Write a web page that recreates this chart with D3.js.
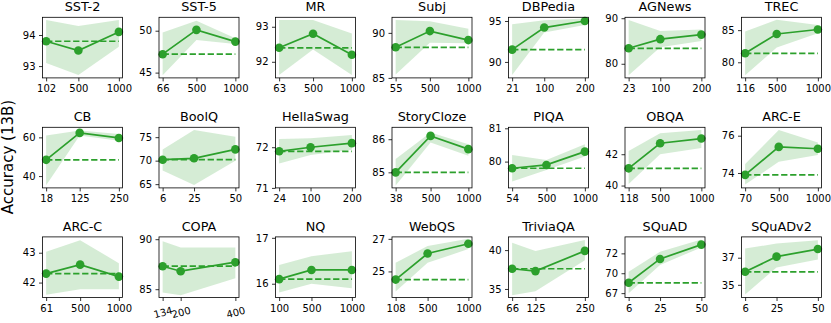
<!DOCTYPE html>
<html>
<head>
<meta charset="utf-8">
<script src="https://cdn.jsdelivr.net/npm/d3@7"></script>
<style>
  body { margin: 0; background: #fff; }
  text { font-family: "DejaVu Sans", sans-serif; fill: #000; }
</style>
</head>
<body>
<div id="chart"></div>
<script>
// data
var tasks = ["SST-2", "SST-5", "MR", "Subj", "DBPedia", "AGNews", "TREC",
             "CB", "BoolQ", "HellaSwag", "StoryCloze", "PIQA", "OBQA", "ARC-E",
             "ARC-C", "COPA", "NQ", "WebQS", "TriviaQA", "SQuAD", "SQuADv2"];

var shots = [
  [102, 500, 1000], [66, 500, 1000], [63, 500, 1000], [55, 500, 1000], [21, 100, 200], [23, 100, 200], [116, 500, 1000],
  [18, 125, 250], [6, 25, 50], [24, 100, 200], [38, 500, 1000], [54, 500, 1000], [118, 500, 1000], [70, 500, 1000],
  [61, 500, 1000], [134, 200, 400], [100, 500, 1000], [108, 500, 1000], [66, 125, 250], [6, 25, 50], [6, 25, 50]
];

var accuracy = [
  [93.8, 93.5, 94.1], [47.2, 50.1, 48.7], [92.4, 92.8, 92.2], [88.4, 90.2, 89.2], [91.5, 94.2, 95.0], [83.4, 85.4, 86.4], [81.4, 84.4, 85.1],
  [48.4, 62.3, 59.7], [70.2, 70.5, 72.4], [71.9, 72.0, 72.1], [85.0, 86.1, 85.7], [79.8, 79.9, 80.3], [41.1, 42.7, 43.0], [73.9, 75.4, 75.3],
  [42.3, 42.6, 42.2], [87.3, 86.8, 87.7], [16.1, 16.3, 16.3], [24.5, 26.1, 26.7], [37.6, 37.3, 39.9], [68.8, 71.8, 73.6], [36.2, 37.6, 38.3]
];

var bandLow = [
  [93.1, 92.71, 93.62], [44.7, 48.9, 48.4], [91.62, 92.35, 91.62], [85.38, 88.9, 88.86], [88.4, 93.6, 94.5], [77.5, 83.6, 85.0], [78.0, 82.3, 84.5],
  [35.3, 61.0, 58.3], [67.9, 64.8, 70.0], [71.6, 71.81, 71.94], [84.6, 85.9, 85.5], [79.4, 79.75, 80.15], [40.1, 42.0, 42.4], [73.38, 74.6, 74.96],
  [41.59, 41.78, 41.78], [84.67, 84.4, 86.1], [15.81, 16.0, 15.9], [23.77, 25.53, 26.37], [34.2, 34.7, 38.7], [67.5, 71.04, 73.25], [34.1, 36.6, 37.33]
];

var bandHigh = [
  [94.48, 94.29, 94.48], [49.8, 51.2, 49.1], [93.19, 93.19, 92.81], [91.43, 91.3, 90.45], [94.6, 95.1, 95.3], [89.6, 87.2, 87.5], [84.8, 86.6, 85.8],
  [61.0, 63.5, 61.8], [72.4, 76.5, 75.1], [72.2, 72.22, 72.3], [85.4, 86.2, 85.85], [80.2, 80.05, 80.52], [42.2, 43.34, 43.55], [74.48, 76.3, 75.64],
  [43.03, 43.42, 42.65], [89.8, 89.17, 89.17], [16.41, 16.6, 16.71], [25.53, 26.56, 27.0], [40.94, 39.87, 41.3], [70.2, 72.7, 74.25], [38.35, 38.8, 39.1]
];

var yLimits = [
  [92.62, 94.57], [44.37, 51.6], [91.54, 93.27], [85.0, 91.73], [88.05, 95.45], [76.9, 90.2], [77.57, 87.0],
  [33.9, 65.2], [64.2, 77.1], [71.0, 72.49], [84.53, 86.36], [79.21, 81.03], [39.85, 43.72], [73.2, 76.45],
  [41.5, 43.53], [84.17, 90.23], [15.7, 17.02], [23.4, 27.12], [33.9, 41.7], [66.95, 74.57], [33.83, 39.42]
];

var yTicks = [
  [93, 94], [45, 50], [92, 93], [85, 90], [90, 95], [80, 90], [80, 85],
  [40, 60], [65, 70, 75], [71, 72], [85, 86], [80, 81], [40, 42], [74, 76],
  [42, 43], [85, 90], [16, 17], [25, 27], [35, 40], [67.5, 70, 72.5], [35, 37.5]
];
// labels are the integer part of each tick
var yTickLabels = yTicks.map(function(t){ return t.map(function(v){ return String(Math.trunc(v)); }); });

var rotatedTicks = ["COPA"];

// layout
var W = 831, H = 323;
var colLeft = 42.5, colStep = 116.5, plotW = 80;
var rowTop = [17.3, 127.3, 236.9], plotH = 60.6;
var green = "#2ca02c";

var svg = d3.select("#chart")
    .append("svg")
        .attr("width", W)
        .attr("height", H);

svg.append("text")
    .attr("transform", "translate(12.5," + 157 + ") rotate(-90)")
    .attr("text-anchor", "middle")
    .attr("font-size", "15px")
    .text("Accuracy (13B)");

tasks.forEach(function(name, i){
    var col = i % 7, row = Math.floor(i / 7);
    var x0 = colLeft + col * colStep, y0 = rowTop[row];

    var g = svg.append("g")
        .attr("transform", "translate(" + x0 + "," + y0 + ")");

    var xs = shots[i];
    var span = xs[2] - xs[0];
    var xScale = d3.scaleLinear()
        .domain([xs[0] - 0.05 * span, xs[2] + 0.05 * span])
        .range([0, plotW]);
    var yScale = d3.scaleLinear()
        .domain(yLimits[i])
        .range([plotH, 0]);

    var pts = xs.map(function(x, k){
        return { x: x, y: accuracy[i][k], lo: bandLow[i][k], hi: bandHigh[i][k] };
    });

    var area = d3.area()
        .x(function(d){ return xScale(d.x); })
        .y0(function(d){ return yScale(d.lo); })
        .y1(function(d){ return yScale(d.hi); });

    g.append("path")
        .datum(pts)
        .attr("d", area)
        .attr("fill", green)
        .attr("fill-opacity", 0.2);

    // baseline (first value) dashed
    g.append("line")
        .attr("x1", xScale(xs[0]))
        .attr("x2", xScale(xs[2]))
        .attr("y1", yScale(accuracy[i][0]))
        .attr("y2", yScale(accuracy[i][0]))
        .attr("stroke", green)
        .attr("stroke-width", 1.7)
        .attr("stroke-dasharray", "6.3,2.7");

    var line = d3.line()
        .x(function(d){ return xScale(d.x); })
        .y(function(d){ return yScale(d.y); });

    g.append("path")
        .datum(pts)
        .attr("d", line)
        .attr("fill", "none")
        .attr("stroke", green)
        .attr("stroke-width", 1.7);

    g.selectAll("circle")
        .data(pts)
        .enter()
        .append("circle")
            .attr("cx", function(d){ return xScale(d.x); })
            .attr("cy", function(d){ return yScale(d.y); })
            .attr("r", 4.3)
            .attr("fill", green);

    // axes
    var xAxis = g.append("g")
        .attr("transform", "translate(0," + plotH + ")")
        .call(d3.axisBottom(xScale).tickValues(xs).tickFormat(d3.format("d"))
            .tickSize(3.5).tickPadding(3.5).tickSizeOuter(0));

    var yAxis = g.append("g")
        .call(d3.axisLeft(yScale).tickValues(yTicks[i])
            .tickFormat(function(d, k){ return yTickLabels[i][k]; })
            .tickSize(3.5).tickPadding(3.5).tickSizeOuter(0));

    [xAxis, yAxis].forEach(function(ax){
        ax.select(".domain").remove();
        ax.selectAll("line").attr("stroke", "#000").attr("stroke-width", 0.8);
        ax.selectAll("text")
            .attr("font-size", "10px")
            .attr("font-family", "DejaVu Sans, sans-serif")
            .attr("fill", "#000");
    });

    if (rotatedTicks.indexOf(name) >= 0) {
        xAxis.selectAll("text")
            .attr("y", 0)
            .attr("dy", "0.35em")
            .attr("transform", "translate(0,15) rotate(-15)");
    }

    // frame on top
    g.append("rect")
        .attr("width", plotW)
        .attr("height", plotH)
        .attr("fill", "none")
        .attr("stroke", "#000")
        .attr("stroke-width", 0.8);

    g.append("text")
        .attr("x", plotW / 2)
        .attr("y", -6.3)
        .attr("text-anchor", "middle")
        .attr("font-size", "12.8px")
        .text(name);
});
</script>
</body>
</html>
